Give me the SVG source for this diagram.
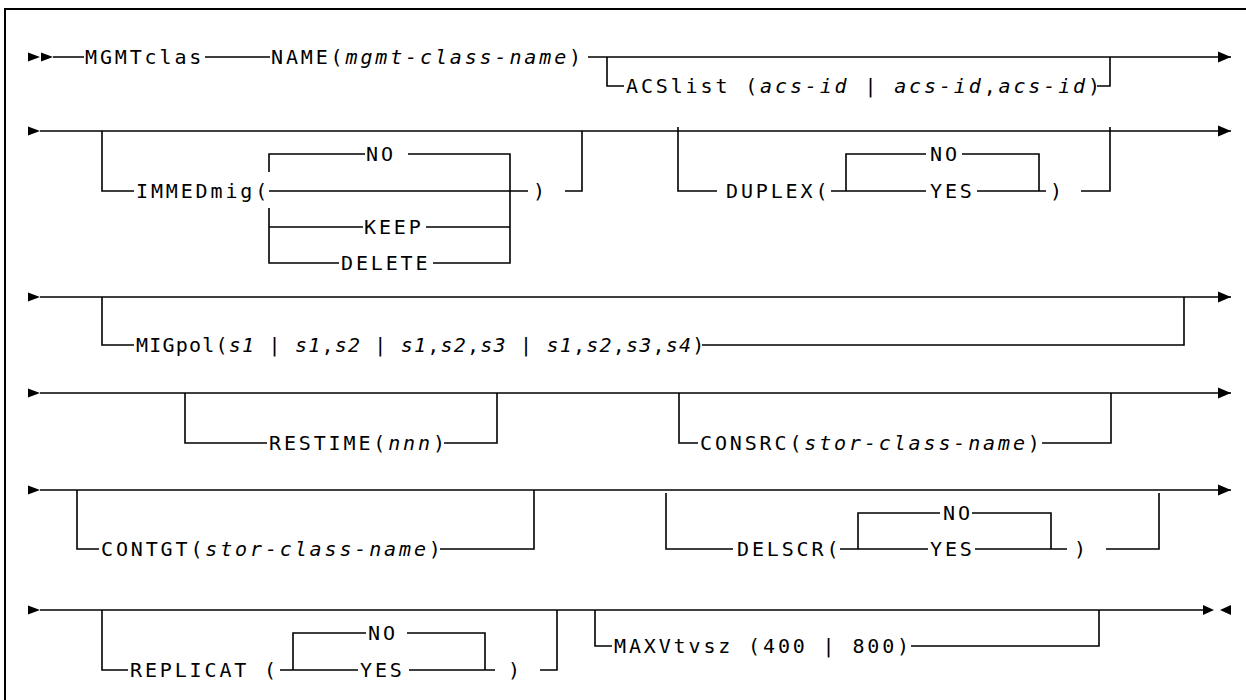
<svg xmlns="http://www.w3.org/2000/svg" xmlns:xlink="http://www.w3.org/1999/xlink" width="1246" height="700" viewBox="0 0 1246 700">
<style>
.t{font-family:"DejaVu Sans Mono","Liberation Mono",monospace;font-size:20px;letter-spacing:2.86px;fill:#000}
.i{font-style:italic}
.l{stroke:#000;stroke-width:1.6;fill:none}
.a{fill:#000;stroke:none}
</style>
<defs>
<marker id="arr" markerUnits="userSpaceOnUse" markerWidth="14" markerHeight="12" refX="13" refY="6" orient="auto"><path d="M0,0.5 L13,6 L0,11.5 z" fill="#000"/></marker>
<path id="st" d="M0,-4.5 L12,0 L0,4.5 z"/>
</defs>
<rect x="5" y="9" width="1260" height="720" fill="#fff" stroke="#000" stroke-width="2"/>
<g id="connectors">
<path class="l" d="M53,57 H84 M205,57 H270"/>
<path class="l" d="M588,57 H1231" marker-end="url(#arr)"/>
<path class="l" d="M40,131 H1231" marker-end="url(#arr)"/>
<path class="l" d="M40,297 H1231" marker-end="url(#arr)"/>
<path class="l" d="M40,393 H1231" marker-end="url(#arr)"/>
<path class="l" d="M40,490 H1231" marker-end="url(#arr)"/>
<path class="l" d="M40,610 H1204"/>
<use href="#st" class="a" x="28" y="57"/>
<use href="#st" class="a" x="41" y="57"/>
<use href="#st" class="a" x="28" y="131"/>
<use href="#st" class="a" x="28" y="297"/>
<use href="#st" class="a" x="28" y="393"/>
<use href="#st" class="a" x="28" y="490"/>
<use href="#st" class="a" x="28" y="610"/>
<path class="a" d="M1203,605 L1214,610 L1203,615 z M1231,605 L1220,610 L1231,615 z"/>
</g>
<g id="mgmtclas"><text class="t" x="85" y="64.3">MGMTclas</text></g>
<g id="name"><text class="t" x="271" y="64.3">NAME(<tspan class="i">mgmt-class-name</tspan>)</text></g>
<g id="acslist">
<path class="l" d="M607,57 V86 H624 M1097,86 H1110 V57"/>
<text class="t" x="626" y="93.3">ACSlist (<tspan class="i">acs-id</tspan> | <tspan class="i">acs-id</tspan>,<tspan class="i">acs-id</tspan>)</text>
</g>
<g id="immedmig">
<path class="l" d="M102,131 V191 H134 M269,191 H528 M269,172 V154 H365 M408,154 H510 V263 H433 M339,263 H269 V208 M269,227 H363 M426,227 H510 M565,191 H582 V131"/>
<text class="t" x="136" y="198.3">IMMEDmig(</text>
<text class="t" x="366" y="161.3">NO</text>
<text class="t" x="364" y="234.3">KEEP</text>
<text class="t" x="341" y="270.3">DELETE</text>
<text class="t" x="533" y="198.3">)</text>
</g>
<g id="duplex">
<path class="l" d="M678,127 V191 H717 M831,191 H926 M846,191 V154 H926 M962,154 H1039 V191 M977,191 H1046 M1081,191 H1110 V127"/>
<text class="t" x="726" y="198.3">DUPLEX(</text>
<text class="t" x="930" y="161.3">NO</text>
<text class="t" x="930" y="198.3">YES</text>
<text class="t" x="1050" y="198.3">)</text>
</g>
<g id="migpol">
<path class="l" d="M102,297 V345 H134 M702,345 H1184 V297"/>
<text class="t" x="136" y="352.3" style="letter-spacing:1.2px">MIGpol(<tspan class="i">s1</tspan> | <tspan class="i">s1</tspan>,<tspan class="i">s2</tspan> | <tspan class="i">s1</tspan>,<tspan class="i">s2</tspan>,<tspan class="i">s3</tspan> | <tspan class="i">s1</tspan>,<tspan class="i">s2</tspan>,<tspan class="i">s3</tspan>,<tspan class="i">s4</tspan>)</text>
</g>
<g id="restime">
<path class="l" d="M185,393 V443 H267 M444,443 H497 V393"/>
<text class="t" x="269" y="450.3">RESTIME(<tspan class="i">nnn</tspan>)</text>
</g>
<g id="consrc">
<path class="l" d="M679,393 V443 H698 M1042,443 H1111 V393"/>
<text class="t" x="700" y="450.3">CONSRC(<tspan class="i">stor-class-name</tspan>)</text>
</g>
<g id="contgt">
<path class="l" d="M77,490 V549 H99 M440,549 H534 V490"/>
<text class="t" x="101" y="556.3">CONTGT(<tspan class="i">stor-class-name</tspan>)</text>
</g>
<g id="delscr">
<path class="l" d="M666,493 V549 H733 M840,549 H928 M858,549 V513 H940 M972,513 H1051 V549 M975,549 H1067 M1106,549 H1159 V493"/>
<text class="t" x="737" y="556.3">DELSCR(</text>
<text class="t" x="943" y="520.3">NO</text>
<text class="t" x="930" y="556.3">YES</text>
<text class="t" x="1074" y="556.3">)</text>
</g>
<g id="replicat">
<path class="l" d="M102,610 V670 H128 M280,670 H358 M293,670 V633 H366 M407,633 H485 V670 M409,670 H495 M540,670 H557 V610"/>
<text class="t" x="130" y="677.3">REPLICAT (</text>
<text class="t" x="368" y="640.3">NO</text>
<text class="t" x="360" y="677.3">YES</text>
<text class="t" x="508" y="677.3">)</text>
</g>
<g id="maxvtvsz">
<path class="l" d="M595,610 V646 H612 M911,646 H1099 V610"/>
<text class="t" x="614" y="653.3">MAXVtvsz (400 | 800)</text>
</g>
</svg>
